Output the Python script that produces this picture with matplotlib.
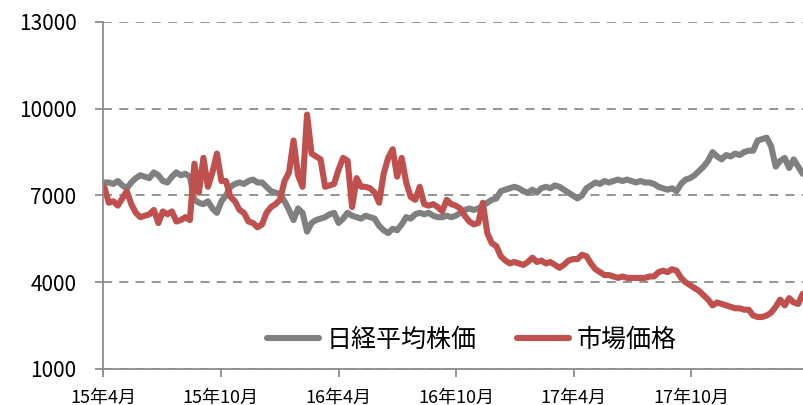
import numpy as np
import pandas as pd
import matplotlib
matplotlib.use("Agg")
import matplotlib.pyplot as plt
import matplotlib.dates as mdates

plt.rcParams['font.family'] = ['Noto Sans CJK JP', 'DejaVu Sans']

# 週次データ（金曜終値）
dates = pd.date_range('2015-04-03', periods=156, freq='W-FRI')

nikkei = [
    7450, 7450, 7400, 7500, 7350, 7250, 7450, 7600, 7700, 7650,
    7600, 7800, 7700, 7500, 7450, 7650, 7800, 7700, 7750, 7650,
    6850, 6750, 6700, 6800, 6550, 6400, 6800, 7000, 7300, 7400,
    7450, 7400, 7500, 7550, 7450, 7450, 7300, 7150, 7100, 7050,
    6800, 6500, 6150, 6550, 6400, 5750, 6050, 6150, 6200, 6250,
    6350, 6400, 6050, 6200, 6400, 6300, 6250, 6200, 6300, 6250,
    6200, 5950, 5800, 5700, 5850, 5800, 6000, 6250, 6200, 6350,
    6400, 6350, 6400, 6300, 6250, 6250, 6300, 6250, 6300, 6400,
    6500, 6550, 6500, 6550, 6650, 6750, 6850, 6900, 7150, 7200,
    7250, 7300, 7250, 7150, 7100, 7200, 7100, 7250, 7300, 7250,
    7350, 7300, 7200, 7100, 7000, 6900, 7000, 7250, 7350, 7450,
    7400, 7500, 7450, 7500, 7550, 7500, 7550, 7500, 7450, 7500,
    7450, 7450, 7400, 7300, 7250, 7200, 7250, 7150, 7400, 7550,
    7600, 7700, 7850, 8000, 8200, 8500, 8350, 8250, 8400, 8350,
    8450, 8400, 8500, 8550, 8550, 8900, 8950, 9000, 8700, 8000,
    8200, 8300, 7950, 8250, 8000, 7750,
]

market = [
    7300, 6750, 6800, 6650, 6900, 7150, 6700, 6400, 6250, 6300,
    6350, 6500, 6050, 6450, 6350, 6450, 6100, 6150, 6250, 6150,
    8100, 7100, 8300, 7300, 7800, 8450, 7500, 7500, 6950, 6800,
    6500, 6400, 6100, 6050, 5900, 6000, 6400, 6600, 6700, 6850,
    7500, 7800, 8900, 7700, 7300, 9800, 8450, 8350, 8250, 7300,
    7350, 7400, 7900, 8300, 8200, 6600, 7600, 7300, 7300, 7250,
    7100, 6750, 7750, 8300, 8600, 7650, 8300, 7450, 6950, 6850,
    7300, 6700, 6650, 6700, 6600, 6450, 6850, 6700, 6650, 6550,
    6300, 6100, 6000, 6050, 6750, 5700, 5350, 5250, 4900, 4750,
    4650, 4700, 4650, 4600, 4700, 4850, 4700, 4750, 4650, 4700,
    4600, 4500, 4600, 4750, 4800, 4800, 4950, 4900, 4650, 4450,
    4350, 4250, 4250, 4200, 4150, 4200, 4150, 4150, 4150, 4150,
    4150, 4200, 4200, 4350, 4400, 4350, 4450, 4400, 4150, 4000,
    3900, 3800, 3700, 3550, 3400, 3200, 3300, 3250, 3200, 3150,
    3100, 3100, 3050, 3050, 2850, 2800, 2800, 2850, 2950, 3150,
    3400, 3200, 3450, 3300, 3250, 3600,
]

tick_dates = ['2015-04-01', '2015-10-01', '2016-04-01',
              '2016-10-01', '2017-04-01', '2017-10-01']
tick_labels = ['15年4月', '15年10月', '16年4月', '16年10月', '17年4月', '17年10月']
y_ticks = [1000, 4000, 7000, 10000, 13000]

fig = plt.figure(figsize=(8.04, 4.05), dpi=100)
ax = fig.add_axes([0.1281, 0.0889, 0.8719, 0.8568])

ax.plot(dates, nikkei, color='#808080', lw=4.4, solid_capstyle='round',
        solid_joinstyle='round', label='日経平均株価')
ax.plot(dates, market, color='#C0504D', lw=4.4, solid_capstyle='round',
        solid_joinstyle='round', label='市場価格')

ax.set_ylim(1000, 13000)
ax.set_yticks(y_ticks)
ax.set_yticklabels([str(v) for v in y_ticks], fontsize=15)
ax.set_xlim(pd.Timestamp('2015-04-01'), pd.Timestamp('2018-03-25'))
ax.set_xticks([mdates.date2num(pd.Timestamp(d)) for d in tick_dates])
ax.set_xticklabels(tick_labels, fontsize=13)

ax.grid(axis='y', color='#8c8c8c', ls=(0, (5, 4)), lw=1.3)
ax.set_axisbelow(True)
for s in ['top', 'right']:
    ax.spines[s].set_visible(False)
for s in ['left', 'bottom']:
    ax.spines[s].set_color('#8c8c8c')
    ax.spines[s].set_linewidth(1.3)
ax.tick_params(axis='both', color='#8c8c8c', width=1.3, length=6)
ax.tick_params(axis='y', pad=13)
ax.tick_params(axis='x', pad=8)

ax.legend(loc='center', bbox_to_anchor=(0.5257, 0.0836), ncol=2, frameon=False,
          fontsize=18, handlelength=2.1, handletextpad=0.3, columnspacing=1.6)

fig.savefig('out.png', dpi=100)
